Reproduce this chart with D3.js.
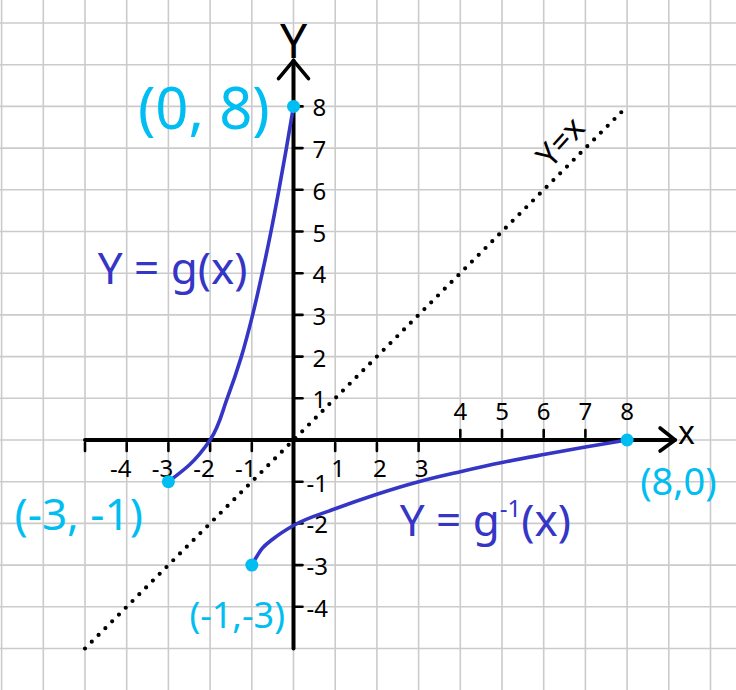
<!DOCTYPE html>
<html><head><meta charset="utf-8">
<script src="https://cdn.jsdelivr.net/npm/d3@7"></script>
<style>
html,body{margin:0;padding:0;background:#fff;}
svg{display:block;}
text{font-family:"Noto Sans","DejaVu Sans",sans-serif;}
</style></head>
<body><svg id="c" width="736" height="690"></svg>
<script>
// ---- data ----
const gX   = [-3, -2.5, -2, -1.59, -1.25, -0.98, -0.75, -0.54, -0.35, -0.17, 0];
const gY   = [-1, -0.6, 0, 1, 2, 3, 4, 5, 6, 7, 8];
const gInvX = [-1, -0.75, -0.5, 0, 1, 2, 3, 4, 5, 6, 7, 8];
const gInvY = [-3, -2.6, -2.38, -2.05, -1.65, -1.3, -1.0, -0.76, -0.54, -0.35, -0.17, 0];
const identityX = [-5, 8];
const endpoints = [[0, 8], [-3, -1], [-1, -3], [8, 0]];
const endpointLabels = ["(0, 8)", "(-3, -1)", "(-1,-3)", "(8,0)"];
const xTicksBelow = [-4, -3, -2, -1, 1, 2, 3];
const xTicksAbove = [4, 5, 6, 7, 8];
const yTicksPos = [1, 2, 3, 4, 5, 6, 7, 8];
const yTicksNeg = [-1, -2, -3, -4];

const W = 736, H = 690;
const unit = 41.7, ox = 293.5, oy = 440;
const x = d3.scaleLinear().domain([0, 1]).range([ox, ox + unit]);
const y = d3.scaleLinear().domain([0, 1]).range([oy, oy - unit]);

const svg = d3.select("#c");
svg.append("rect").attr("width", W).attr("height", H).attr("fill", "#fff");

// grid
const gx = d3.range(Math.ceil(x.invert(0)), Math.floor(x.invert(W)) + 1);
const gy = d3.range(Math.ceil(y.invert(H)), Math.floor(y.invert(0)) + 1);
const grid = svg.append("g").attr("stroke", "#cbcbcb").attr("stroke-width", 1.6);
grid.selectAll("line.v").data(gx).join("line").attr("class", "v")
  .attr("x1", d => x(d)).attr("x2", d => x(d)).attr("y1", 0).attr("y2", H);
grid.selectAll("line.h").data(gy).join("line").attr("class", "h")
  .attr("y1", d => y(d)).attr("y2", d => y(d)).attr("x1", 0).attr("x2", W);

// y = x dotted
svg.append("line")
  .attr("x1", x(identityX[0])).attr("y1", y(identityX[0]))
  .attr("x2", x(identityX[1])).attr("y2", y(identityX[1]))
  .attr("stroke", "#000").attr("stroke-width", 4.2)
  .attr("stroke-linecap", "round").attr("stroke-dasharray", "0 9.6");

// axes
const ax = svg.append("g").attr("stroke", "#000").attr("fill", "none")
  .attr("stroke-linecap", "round").attr("stroke-linejoin", "round");
ax.append("line").attr("x1", x(-5)).attr("x2", x(9.15)).attr("y1", y(0)).attr("y2", y(0)).attr("stroke-width", 4);
ax.append("line").attr("x1", x(0)).attr("x2", x(0)).attr("y1", y(-5)).attr("y2", y(9.1)).attr("stroke-width", 4);
// arrow heads
ax.append("path").attr("stroke-width", 3.6)
  .attr("d", `M${x(9.15) - 15},${y(0) - 12} L${x(9.15)},${y(0)} L${x(9.15) - 15},${y(0) + 11}`);
ax.append("path").attr("stroke-width", 3.6)
  .attr("d", `M${x(0) - 15},${y(9.1) + 18} L${x(0)},${y(9.1)} L${x(0) + 15},${y(9.1) + 18}`);
// ticks
ax.selectAll("line.xb").data([-5].concat(xTicksBelow)).join("line").attr("class", "xb")
  .attr("x1", d => x(d)).attr("x2", d => x(d)).attr("y1", y(0) + 3).attr("y2", y(0) + 11).attr("stroke-width", 2.6);
ax.selectAll("line.xa").data(xTicksAbove.slice(0, 4)).join("line").attr("class", "xa")
  .attr("x1", d => x(d)).attr("x2", d => x(d)).attr("y1", y(0) - 3).attr("y2", y(0) - 10).attr("stroke-width", 2.6);
ax.selectAll("line.yt").data(yTicksPos.concat(yTicksNeg)).join("line").attr("class", "yt")
  .attr("x1", x(0)).attr("x2", x(0) + 9).attr("y1", d => y(d)).attr("y2", d => y(d)).attr("stroke-width", 2.6);

// tick labels
const tl = svg.append("g").attr("fill", "#000").attr("font-size", 24).attr("text-anchor", "middle");
tl.selectAll("text.xb").data(xTicksBelow).join("text").attr("class", "xb")
  .attr("x", d => x(d) + (d < 0 ? -6 : 3)).attr("y", y(0) + 37)
  .text(d => d < 0 ? "-" + Math.abs(d) : d);
tl.selectAll("text.xa").data(xTicksAbove).join("text").attr("class", "xa")
  .attr("x", d => x(d)).attr("y", y(0) - 20).text(d => d);
tl.selectAll("text.yp").data(yTicksPos).join("text").attr("class", "yp")
  .attr("text-anchor", "start").attr("x", x(0) + 19).attr("y", d => y(d) + 10).text(d => d);
tl.selectAll("text.yn").data(yTicksNeg).join("text").attr("class", "yn")
  .attr("text-anchor", "start").attr("x", x(0) + 13).attr("y", d => y(d) + 10).text(d => "-" + Math.abs(d));

// curves
const blue = "#3535c6";
const lineG = d3.line().x(d => x(d[0])).y(d => y(d[1])).curve(d3.curveMonotoneY);
const lineI = d3.line().x(d => x(d[0])).y(d => y(d[1])).curve(d3.curveMonotoneX);
svg.append("path").datum(gX.map((v, i) => [v, gY[i]])).attr("d", lineG)
  .attr("fill", "none").attr("stroke", blue).attr("stroke-width", 3.6).attr("stroke-linecap", "round");
svg.append("path").datum(gInvX.map((v, i) => [v, gInvY[i]])).attr("d", lineI)
  .attr("fill", "none").attr("stroke", blue).attr("stroke-width", 3.6).attr("stroke-linecap", "round");

// endpoints
const cyan = "#00bdf2";
svg.selectAll("circle.ep").data(endpoints).join("circle").attr("class", "ep")
  .attr("cx", d => x(d[0])).attr("cy", d => y(d[1])).attr("r", 6.5).attr("fill", cyan);

// endpoint labels: [x, y, font-size]
const lblPos = [[-2.15, 7.45, 58], [-5.15, -2.15, 44], [-1.35, -4.5, 36], [9.23, -1.32, 38]];
svg.selectAll("text.el").data(endpointLabels).join("text").attr("class", "el")
  .attr("x", (d, i) => x(lblPos[i][0])).attr("y", (d, i) => y(lblPos[i][1]))
  .attr("font-size", (d, i) => lblPos[i][2]).attr("text-anchor", "middle")
  .attr("fill", cyan).text(d => d);

// curve labels
svg.append("text").attr("x", x(-2.9)).attr("y", y(3.75)).attr("font-size", 44)
  .attr("text-anchor", "middle").attr("fill", blue).text("Y = g(x)");
const t2 = svg.append("text").attr("x", x(4.6)).attr("y", y(-2.3)).attr("font-size", 44)
  .attr("text-anchor", "middle").attr("fill", blue);
t2.append("tspan").text("Y = g");
t2.append("tspan").attr("font-size", 24).attr("dy", -19).text("-1");
t2.append("tspan").attr("dy", 19).text("(x)");

// y = x label
svg.append("text").attr("transform", `translate(${x(6.4)},${y(7.15)}) rotate(-48)`)
  .attr("font-size", 32).attr("text-anchor", "middle").attr("dy", "0.35em").attr("fill", "#000").text("Y=x");

// axis names
svg.append("text").attr("x", x(0)).attr("y", 58).attr("font-size", 48)
  .attr("text-anchor", "middle").attr("fill", "#000").text("Y");
svg.append("text").attr("x", 678).attr("y", y(0) + 4).attr("font-size", 32)
  .attr("text-anchor", "start").attr("fill", "#000").text("x");
</script></body></html>
